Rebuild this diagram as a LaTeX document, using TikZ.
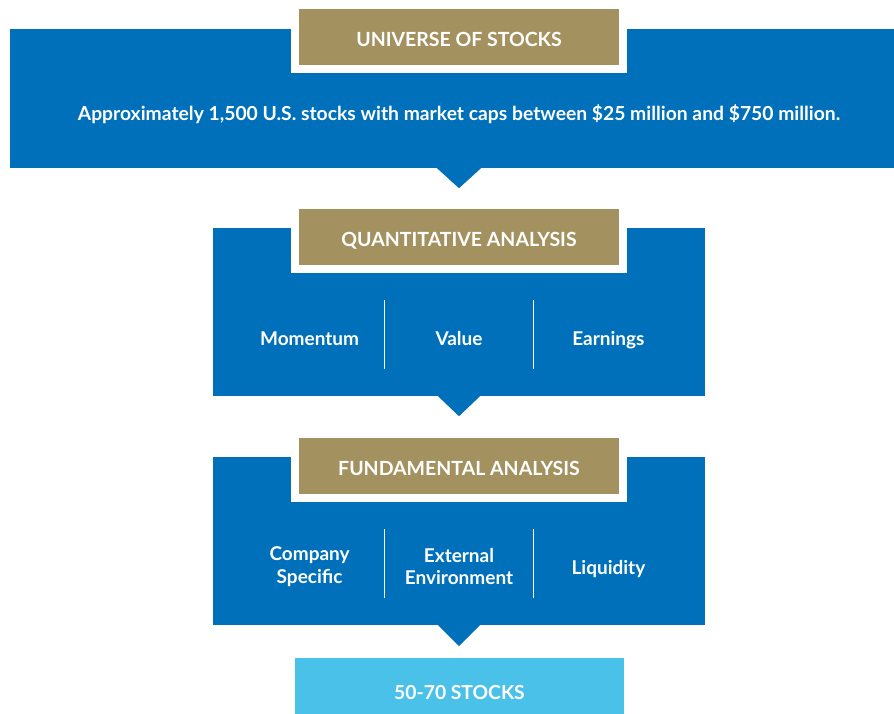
\documentclass[tikz,border=0pt]{standalone}
\usepackage{fontspec}
\setmainfont{Lato}
\usepackage{xcolor}
\usetikzlibrary{positioning,backgrounds}

\definecolor{stockblue}{RGB}{0,112,186}
\definecolor{headgold}{RGB}{163,145,96}
\definecolor{lightblue}{RGB}{74,193,233}

\tikzset{
  panel/.style={fill=stockblue, inner sep=0pt},
  header/.style={fill=headgold, draw=white, line width=8pt, text=white,
    minimum width=328pt, minimum height=64pt, inner sep=0pt,
    text height=19pt, text depth=0pt,
    font=\fontsize{19.5}{22}\bfseries},
  column/.style={text=white, minimum width=149pt, inner sep=0pt, align=center,
    font=\fontsize{19}{22.5}\bfseries},
  divider/.style={white, line width=1pt}
}

\begin{document}
\begin{tikzpicture}[x=1pt, y=-1pt]
\useasboundingbox (0,0) rectangle (894,713);

% universe of stocks
\node (universe) at (459,98.5) [panel, minimum width=898pt, minimum height=139pt] {};
\node (uhead) at (459,37) [header] {UNIVERSE OF STOCKS};
\node (utext) at (459,114) [text=white, font=\fontsize{19.3}{22}\bfseries]
  {Approximately 1,500 U.S. stocks with market caps between \$25 million and \$750 million.};
\fill[stockblue] ([xshift=-22pt]universe.south) -- ([xshift=22pt]universe.south)
  -- ([yshift=-20pt]universe.south) -- cycle;

% quantitative analysis
\node (quant) at (459,312) [panel, minimum width=492pt, minimum height=168pt] {};
\node (qhead) at (459,236.5) [header] {QUANTITATIVE ANALYSIS};
\node (value) at (459,338.5) [column] {Value};
\node (momentum) [column, left=0pt of value] {Momentum};
\node (earnings) [column, right=0pt of value, yshift=-2pt] {Earnings};
\draw[divider] (384,300) -- (384,369);
\draw[divider] (533,300) -- (533,369);
\fill[stockblue] ([xshift=-21pt]quant.south) -- ([xshift=21pt]quant.south)
  -- ([yshift=-20pt]quant.south) -- cycle;

% fundamental analysis
\node (fund) at (459,541) [panel, minimum width=492pt, minimum height=168pt] {};
\node (fhead) at (459,465.5) [header] {FUNDAMENTAL ANALYSIS};
\node (external) at (459,566.5) [column] {External\\Environment};
\node (company) [column, left=0pt of external] {Company\\Specific};
\node (liquidity) [column, right=0pt of external, yshift=-3pt] {Liquidity};
\draw[divider] (384,529) -- (384,598);
\draw[divider] (533,529) -- (533,598);
\fill[stockblue] ([xshift=-21pt]fund.south) -- ([xshift=21pt]fund.south)
  -- ([yshift=-21pt]fund.south) -- cycle;

% result
\node (result) at (459.5,693) [fill=lightblue, text=white, minimum width=329pt,
  minimum height=70pt, inner sep=0pt, font=\fontsize{19.3}{22}\bfseries] {50-70 STOCKS};

\end{tikzpicture}
\end{document}
